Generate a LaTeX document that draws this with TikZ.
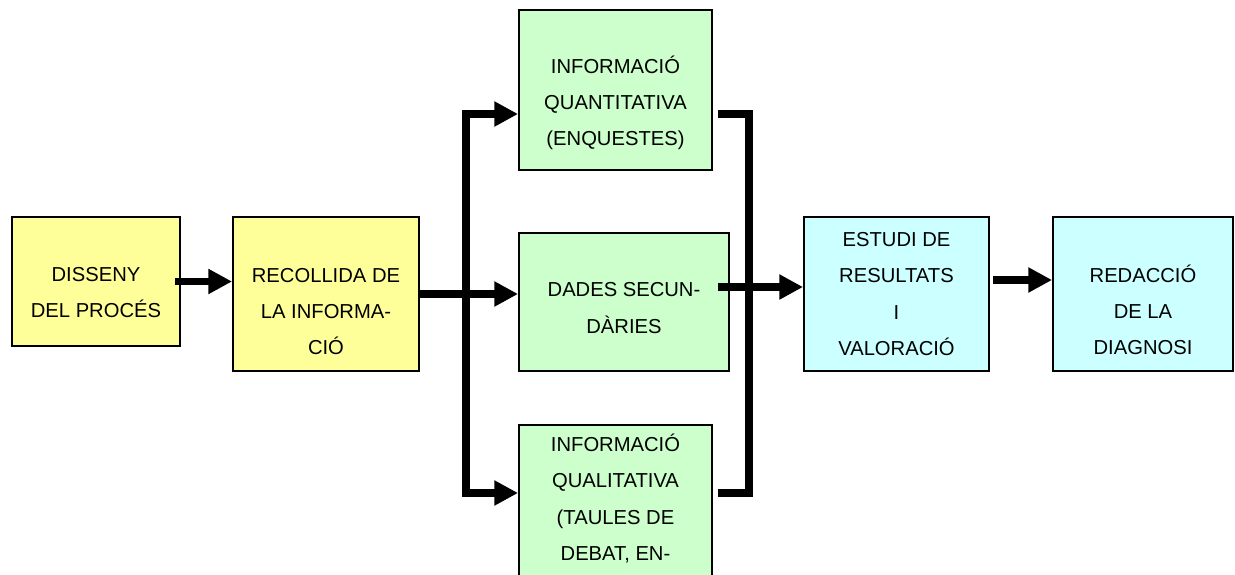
\documentclass[tikz,border=0pt]{standalone}
\usepackage{fontspec}
\setmainfont{Liberation Sans}
\usetikzlibrary{arrows.meta}
\definecolor{boxyellow}{HTML}{FFFF99}
\definecolor{boxgreen}{HTML}{CCFFCC}
\definecolor{boxcyan}{HTML}{CCFFFF}

\begin{document}
\begin{tikzpicture}[x=0.02cm,y=-0.02cm,
		font=\fontsize{11.5}{20.7}\selectfont,
		box/.style={draw, line width=1.1pt, align=center, inner sep=0pt},
		line/.style={line width=4.2pt},
		arr/.style={line, -{Triangle[length=13.5pt,width=13.5pt]}}]
	\useasboundingbox (0,0) rectangle (1235,575);
	\clip (0,0) rectangle (1235,575);
	% boxes
	\node[box, fill=boxyellow, minimum width=3.36cm, minimum height=2.58cm] (dis) at (96,281.5) {\\DISSENY\\DEL PROCÉS};
	\node[box, fill=boxyellow, minimum width=3.72cm, minimum height=3.08cm] (rec) at (326,294) {\\[7.4pt]RECOLLIDA DE\\LA INFORMA-\\CIÓ};
	\node[box, fill=boxgreen, minimum width=3.86cm, minimum height=3.2cm] (quant) at (615.5,90) {\\[4pt]INFORMACIÓ\\QUANTITATIVA\\(ENQUESTES)};
	\node[box, fill=boxgreen, minimum width=4.2cm, minimum height=2.76cm] (dades) at (624,302) {\\[-5.7pt]DADES SECUN-\\DÀRIES};
	\node[box, fill=boxgreen, minimum width=3.86cm, anchor=north, inner ysep=0.18cm, text depth=3cm] (qual) at (615.5,424) {INFORMACIÓ\\QUALITATIVA\\(TAULES DE\\DEBAT, EN-};
	\node[box, fill=boxcyan, minimum width=3.7cm, minimum height=3.08cm] (est) at (896.5,294) {ESTUDI DE\\RESULTATS\\I\\VALORACIÓ};
	\node[box, fill=boxcyan, minimum width=3.6cm, minimum height=3.08cm] (red) at (1143,294) {\\[7.4pt]REDACCIÓ\\DE LA\\DIAGNOSI};
	% junctions
	\coordinate (jtop) at (466,114);
	\coordinate (jbot) at (466,493);
	\coordinate (rtop) at (749,114);
	\coordinate (rbot) at (749,493);
	\coordinate (dout) at ([xshift=-0.24cm,yshift=0.3cm]dades.east);
	% arrows
	\draw[arr, shorten <=-0.12cm] (dis.east) -- (dis.east -| rec.west);
	\draw[line, line cap=rect] (jtop) -- (jbot);
	\draw[arr] (rec.east) -- (rec.east -| dades.west);
	\draw[arr] (jtop) -- (jtop -| quant.west);
	\draw[arr] (jbot) -- (jbot -| qual.west);
	\draw[line, shorten <=0.1cm, shorten >=0.1cm] (rtop -| quant.east) -- (rtop) -- (rbot) -- (rbot -| qual.east);
	\draw[arr] (dout) -- (dout -| est.west);
	\draw[arr, shorten <=0.06cm] ([yshift=0.28cm]est.east) -- ([yshift=0.28cm]red.west);
\end{tikzpicture}
\end{document}
